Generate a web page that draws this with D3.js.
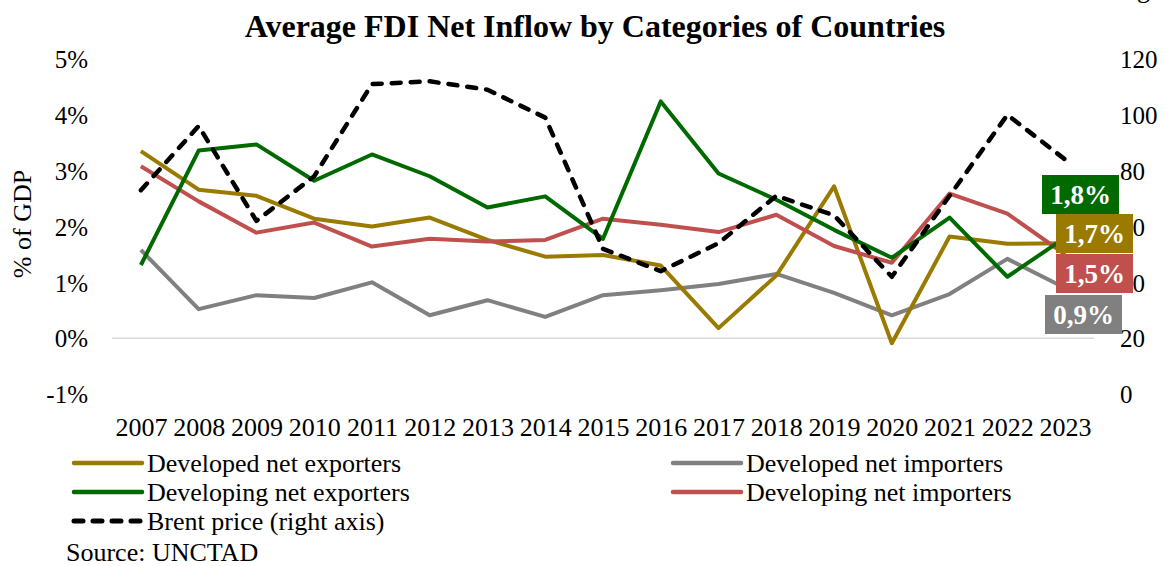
<!DOCTYPE html>
<html>
<head>
<meta charset="utf-8">
<script src="https://cdn.jsdelivr.net/npm/d3@7"></script>
<style>
  html, body { margin: 0; padding: 0; background: #fff; }
  svg { display: block; font-family: "Liberation Serif", "Times New Roman", serif; }
</style>
</head>
<body>
<svg id="chart" width="1168" height="566"></svg>
<script>
// Years on the category axis
const years = [2007, 2008, 2009, 2010, 2011, 2012, 2013, 2014, 2015, 2016, 2017, 2018, 2019, 2020, 2021, 2022, 2023];

// FDI net inflow, % of GDP
const developedExporters  = [3.35, 2.66, 2.55, 2.14, 2.00, 2.16, 1.76, 1.46, 1.49, 1.30, 0.18, 1.12, 2.72, -0.09, 1.82, 1.69, 1.70];
const developedImporters  = [1.58, 0.52, 0.77, 0.72, 1.00, 0.41, 0.68, 0.38, 0.77, 0.86, 0.97, 1.15, 0.81, 0.41, 0.79, 1.42, 0.90];
const developingExporters = [1.31, 3.36, 3.47, 2.82, 3.29, 2.90, 2.34, 2.54, 1.78, 4.24, 2.95, 2.48, 1.94, 1.44, 2.16, 1.10, 1.80];
const developingImporters = [3.08, 2.45, 1.89, 2.07, 1.64, 1.78, 1.73, 1.76, 2.14, 2.03, 1.90, 2.21, 1.65, 1.35, 2.59, 2.23, 1.50];

// Brent crude price, USD per barrel (right axis)
const brentPrice = [73, 96, 62, 78, 111, 112, 109, 99, 52, 44, 54, 71, 64, 42, 71, 100, 84];

// Axis ticks
const leftTicks  = [-0.01, 0, 0.01, 0.02, 0.03, 0.04, 0.05];
const rightTicks = [0, 20, 40, 60, 80, 100, 120];

// End-of-series value labels (last year)
const endLabels = ["1,8%", "1,7%", "1,5%", "0,9%"];

const colors = {
  devExp: "#9A7A00",
  devImp: "#808080",
  dvgExp: "#006A00",
  dvgImp: "#C0504D",
  brent: "#000000"
};

const FONT = "Liberation Serif";
const svg = d3.select("#chart");

const plot = { left: 112, right: 1094, top: 59, bottom: 394 };

const x = d3.scalePoint()
  .domain(years)
  .range([plot.left, plot.right])
  .padding(0.5);

const yL = d3.scaleLinear().domain([-0.01, 0.05]).range([plot.bottom, plot.top]);
const yR = d3.scaleLinear().domain([0, 120]).range([plot.bottom, plot.top]);

// Title
svg.append("text")
  .attr("x", 595).attr("y", 37)
  .attr("text-anchor", "middle")
  .attr("font-weight", "bold")
  .attr("font-size", 32)
  .text("Average FDI Net Inflow by Categories of Countries");

// Clipped glyph at the top-right corner
svg.append("text")
  .attr("x", 1137).attr("y", -2)
  .attr("font-size", 26)
  .text("g");

// Zero gridline
svg.append("line")
  .attr("x1", plot.left).attr("x2", plot.right)
  .attr("y1", yL(0)).attr("y2", yL(0))
  .attr("stroke", "#d9d9d9").attr("stroke-width", 1.5);

// Left axis (plain hyphen for negatives)
const leftAxis = d3.axisLeft(yL)
  .tickValues(leftTicks)
  .tickFormat(d => Math.round(d * 100) + "%")
  .tickSize(0).tickPadding(0);
const gL = svg.append("g").attr("transform", `translate(88,0)`).call(leftAxis);
gL.select(".domain").remove();
gL.selectAll("text").attr("font-size", 25).attr("font-family", FONT).attr("fill", "#000").attr("dy", "0.35em");

// Right axis
const rightAxis = d3.axisRight(yR)
  .tickValues(rightTicks)
  .tickFormat(d3.format("d"))
  .tickSize(0).tickPadding(0);
const gR = svg.append("g").attr("transform", `translate(1120,0)`).call(rightAxis);
gR.select(".domain").remove();
gR.selectAll("text").attr("font-size", 25).attr("font-family", FONT).attr("fill", "#000").attr("dy", "0.35em");

// Category axis
const bottomAxis = d3.axisBottom(x).tickSize(0).tickPadding(0);
const gB = svg.append("g").attr("transform", `translate(0,418)`).call(bottomAxis);
gB.select(".domain").remove();
gB.selectAll("text").attr("font-size", 26).attr("font-family", FONT).attr("fill", "#000");

// Y-axis title
svg.append("text")
  .attr("transform", "translate(31,224) rotate(-90)")
  .attr("text-anchor", "middle")
  .attr("font-size", 26)
  .text("% of GDP");

// Series lines
const pctLine = d3.line().x((d, i) => x(years[i])).y(d => yL(d / 100));
const brentLine = d3.line().x((d, i) => x(years[i])).y(d => yR(d));

const series = [
  { key: "devImp", data: developedImporters },
  { key: "devExp", data: developedExporters },
  { key: "dvgImp", data: developingImporters },
  { key: "dvgExp", data: developingExporters }
];

series.forEach(s => {
  svg.append("path")
    .datum(s.data)
    .attr("d", pctLine)
    .attr("fill", "none")
    .attr("stroke", colors[s.key])
    .attr("stroke-width", 4)
    .attr("stroke-linejoin", "round");
});

svg.append("path")
  .datum(brentPrice)
  .attr("d", brentLine)
  .attr("fill", "none")
  .attr("stroke", colors.brent)
  .attr("stroke-width", 4.5)
  .attr("stroke-dasharray", "9,10")
  .attr("stroke-linecap", "round")
  .attr("stroke-linejoin", "round");

// End-of-series value labels
const last = years.length - 1;
const labelSpecs = [
  { text: endLabels[0], color: colors.dvgExp, x0: 1042, y0: 175 },
  { text: endLabels[1], color: colors.devExp, x0: 1056, y0: 214 },
  { text: endLabels[2], color: colors.dvgImp, x0: 1056, y0: 254 },
  { text: endLabels[3], color: colors.devImp, x0: 1045, y0: 295 }
];

// leader line from the green label to its point
svg.append("line")
  .attr("x1", x(years[last])).attr("y1", yL(developingExporters[last] / 100))
  .attr("x2", 1080).attr("y2", 213)
  .attr("stroke", "#a6a6a6").attr("stroke-width", 1.2);

labelSpecs.forEach(l => {
  const g = svg.append("g");
  g.append("rect")
    .attr("x", l.x0).attr("y", l.y0)
    .attr("width", 77).attr("height", 39)
    .attr("fill", l.color);
  g.append("text")
    .attr("x", l.x0 + 38.5).attr("y", l.y0 + 29)
    .attr("text-anchor", "middle")
    .attr("font-weight", "bold")
    .attr("font-size", 27)
    .attr("fill", "#fff")
    .text(l.text);
});

// Legend
const legendItems = [
  { label: "Developed net exporters", color: colors.devExp, x: 74, y: 463 },
  { label: "Developed net importers", color: colors.devImp, x: 673, y: 463 },
  { label: "Developing net exporters", color: colors.dvgExp, x: 74, y: 492 },
  { label: "Developing net importers", color: colors.dvgImp, x: 673, y: 492 },
  { label: "Brent price (right axis)", color: colors.brent, x: 74, y: 521, dashed: true }
];

legendItems.forEach(it => {
  const g = svg.append("g");
  g.append("line")
    .attr("x1", it.x).attr("x2", it.x + 68)
    .attr("y1", it.y).attr("y2", it.y)
    .attr("stroke", it.color)
    .attr("stroke-width", it.dashed ? 5 : 4.5)
    .attr("stroke-linecap", "round")
    .attr("stroke-dasharray", it.dashed ? "9,10" : null);
  g.append("text")
    .attr("x", it.x + 73).attr("y", it.y + 9)
    .attr("font-size", 26)
    .text(it.label);
});

// Source note
svg.append("text")
  .attr("x", 66).attr("y", 561)
  .attr("font-size", 26)
  .text("Source: UNCTAD");
</script>
</body>
</html>
